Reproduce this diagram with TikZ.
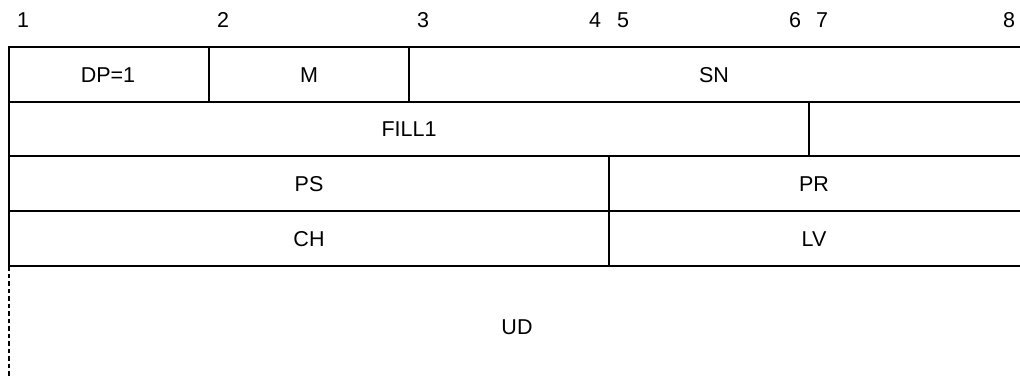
\documentclass[tikz,border=0pt]{standalone}
\usepackage{fontspec}
\setmainfont{Liberation Sans}
\begin{document}
\begin{tikzpicture}[x=1pt,y=-1pt,
  grid/.style={line width=2pt,line cap=rect},
  dashline/.style={line width=1.6pt,dash pattern=on 4.5pt off 3pt},
  lbl/.style={font=\fontsize{21.5}{25}\selectfont,inner sep=0pt},
  num/.style={font=\fontsize{21.5}{25}\selectfont,inner sep=0pt}]
\useasboundingbox (0,0) rectangle (1020,377);
% grid coordinates
\coordinate (tl) at (9,47);
\coordinate (bl) at (9,266);
\coordinate (de) at (9,377);
% horizontal lines
\draw[grid] (9,47) -- (1021,47);
\draw[grid] (9,102) -- (1021,102);
\draw[grid] (9,156) -- (1021,156);
\draw[grid] (9,211) -- (1021,211);
\draw[grid] (9,266) -- (1021,266);
% vertical lines
\draw[grid] (tl) -- (bl);
\draw[grid] (209,47) -- (209,102);
\draw[grid] (409,47) -- (409,102);
\draw[grid] (809,102) -- (809,156);
\draw[grid] (609,156) -- (609,266);
\draw[dashline] (bl) -- (de);
% numbers
\node[num] (n1) at (23,20) {1};
\node[num] (n2) at (223,20) {2};
\node[num] (n3) at (423,20) {3};
\node[num] (n4) at (595,20) {4};
\node[num] (n5) at (623,20) {5};
\node[num] (n6) at (795,20) {6};
\node[num] (n7) at (822,20) {7};
\node[num] (n8) at (1009,20) {8};
% fields
\node[lbl] (dp) at (108,75) {DP=1};
\node[lbl] (m) at (309,75) {M};
\node[lbl] (sn) at (714,75) {SN};
\node[lbl] (fill) at (409,129) {FILL1};
\node[lbl] (ps) at (309,184) {PS};
\node[lbl] (pr) at (814,184) {PR};
\node[lbl] (ch) at (309,239) {CH};
\node[lbl] (lv) at (814,239) {LV};
\node[lbl] (ud) at (517,327) {UD};
\end{tikzpicture}
\end{document}
